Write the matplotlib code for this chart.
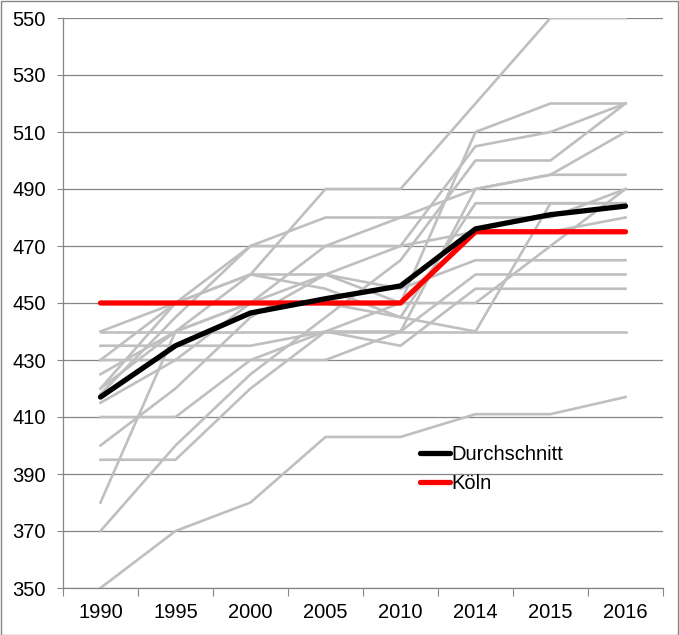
import matplotlib
matplotlib.use("Agg")
import matplotlib.pyplot as plt
from matplotlib.patches import Rectangle
import numpy as np

plt.rcParams['font.family'] = ['Liberation Sans', 'DejaVu Sans']

years = ['1990', '1995', '2000', '2005', '2010', '2014', '2015', '2016']

# einzelne Staedte (grau)
cities = [
    [350, 370, 380, 403, 403, 411, 411, 417],
    [370, 400, 425, 445, 465, 500, 500, 520],
    [380, 440, 460, 490, 490, 520, 550, 550],
    [395, 395, 420, 440, 450, 510, 520, 520],
    [400, 420, 445, 460, 470, 505, 510, 520],
    [410, 410, 430, 440, 440, 490, 495, 495],
    [415, 430, 450, 470, 480, 480, 480, 490],
    [418, 445, 470, 480, 480, 490, 495, 510],
    [420, 450, 460, 455, 445, 485, 485, 485],
    [425, 440, 450, 460, 455, 465, 465, 465],
    [430, 430, 430, 430, 440, 460, 460, 460],
    [435, 435, 435, 440, 435, 455, 455, 455],
    [440, 440, 440, 440, 440, 440, 440, 440],
    [440, 450, 460, 460, 450, 450, 470, 490],
    [420, 440, 450, 450, 445, 440, 485, 485],
    [430, 450, 470, 470, 470, 475, 475, 480],
]
durchschnitt = [417, 435, 446.5, 451.5, 456, 476, 481, 484]
koeln = [450, 450, 450, 450, 450, 475, 475, 475]

fs = 14.5

fig = plt.figure(figsize=(6.79, 6.35), dpi=100)
ax = fig.add_axes([63 / 679, 1 - 588 / 635, 600 / 679, 570 / 635])

x = np.arange(len(years))
for c in cities:
    ax.plot(x, c, color='#bfbfbf', lw=1.9, zorder=2)
ax.plot(x, koeln, color='#ff0000', lw=3.8, label='Köln', zorder=3, solid_capstyle='round')
ax.plot(x, durchschnitt, color='#000000', lw=3.8, label='Durchschnitt', zorder=4,
        solid_capstyle='round')

ax.set_ylim(350, 550)
ax.set_yticks(np.arange(350, 551, 20))
ax.set_xlim(-0.5, len(years) - 0.5)
ax.set_xticks(np.arange(-0.5, len(years), 1))
ax.set_xticklabels([])
ax.set_xticks(x, minor=True)
ax.set_xticklabels(years, minor=True)
ax.tick_params(axis='x', which='major', length=6, color='#868686', direction='out')
ax.tick_params(axis='x', which='minor', length=0, pad=10.5, labelsize=fs)
ax.tick_params(axis='y', length=4.5, color='#868686', labelsize=fs, pad=8)

ax.grid(axis='y', color='#868686', lw=0.9)
ax.set_axisbelow(True)
for s in ['top', 'right']:
    ax.spines[s].set_visible(False)
for s in ['left', 'bottom']:
    ax.spines[s].set_color('#868686')
    ax.spines[s].set_linewidth(0.9)

h, l = ax.get_legend_handles_labels()
ax.legend(h[::-1], l[::-1], loc='upper left', bbox_to_anchor=(0.595, 0.251),
          frameon=False, fontsize=fs, handlelength=1.5, handletextpad=0.05,
          borderpad=0, borderaxespad=0, labelspacing=0.5)

fig.patches.append(Rectangle((0.5 / 679, 0.5 / 635), 677.5 / 679, 633.5 / 635,
                             transform=fig.transFigure, fill=False,
                             edgecolor='#868686', lw=1))

fig.savefig('out.png', dpi=100)
